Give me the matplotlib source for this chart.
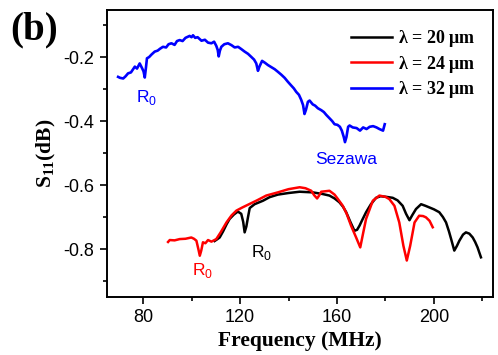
import matplotlib
matplotlib.use("Agg")
import matplotlib.pyplot as plt
from matplotlib.ticker import MultipleLocator

# ---- data ----
blue_f = [69.7, 70.5, 71.8, 72.8, 73.8, 75.0, 76.6, 77.5, 78.6, 79.6, 80.2, 80.7, 81.2, 81.6,
          82.5, 83.5, 84.8, 86.0, 87.0, 88.2, 89.5, 90.5, 91.7, 93.0, 94.0, 95.1, 96.3, 97.5,
          99.2, 100.0, 100.6, 101.5, 102.5, 104.1, 105.5, 106.8, 108.2, 109.3, 110.2, 110.8,
          111.2, 111.7, 112.3, 113.5, 115.0, 116.5, 117.8, 119.2, 120.5, 121.9, 123.3, 124.7,
          125.8, 126.7, 127.4, 128.0, 129.1, 130.3, 131.5, 133.0, 134.3, 135.6, 137.0, 138.4,
          139.7, 141.0, 142.2, 143.2, 144.3, 145.2, 146.0, 146.6, 147.2, 148.0, 148.7, 150.0,
          151.0, 152.1, 153.5, 154.6, 155.6, 157.0, 158.0, 159.0, 160.2, 161.2, 162.0, 162.8,
          163.3, 163.9, 164.6, 165.2, 166.5, 168.1, 169.5, 170.8, 172.2, 173.5, 174.9, 176.3,
          177.5, 179.0, 179.7]
blue_s = [-0.262, -0.265, -0.267, -0.260, -0.251, -0.248, -0.230, -0.236, -0.220, -0.235,
          -0.245, -0.264, -0.232, -0.204, -0.200, -0.192, -0.183, -0.180, -0.174, -0.168,
          -0.170, -0.160, -0.157, -0.162, -0.150, -0.147, -0.150, -0.140, -0.134, -0.138,
          -0.132, -0.140, -0.138, -0.149, -0.146, -0.155, -0.157, -0.152, -0.165, -0.178,
          -0.198, -0.180, -0.168, -0.160, -0.157, -0.163, -0.170, -0.168, -0.175, -0.183,
          -0.190, -0.200, -0.208, -0.220, -0.243, -0.230, -0.212, -0.218, -0.225, -0.232,
          -0.238, -0.246, -0.255, -0.265, -0.277, -0.288, -0.298, -0.309, -0.318, -0.333,
          -0.350, -0.378, -0.365, -0.340, -0.336, -0.348, -0.352, -0.360, -0.366, -0.372,
          -0.381, -0.392, -0.400, -0.410, -0.412, -0.418, -0.430, -0.450, -0.466, -0.450,
          -0.418, -0.414, -0.420, -0.422, -0.430, -0.420, -0.425, -0.418, -0.416, -0.420,
          -0.425, -0.430, -0.410]

black_f = [109.5, 110.5, 111.6, 113.0, 114.5, 115.7, 117.5, 119.1, 120.5, 121.3, 121.9, 122.6,
           123.3, 124.0, 126.0, 129.5, 132.2, 135.6, 140.0, 144.6, 150.0, 154.0, 156.9, 159.0,
           161.0, 162.5, 163.8, 165.5, 167.2, 168.3, 169.3, 170.5, 172.0, 174.0, 176.1, 178.0,
           180.3, 183.0, 185.0, 187.1, 188.5, 189.9, 191.0, 192.6, 194.7, 196.5, 198.1, 200.0,
           202.2, 203.7, 205.0, 206.2, 207.1, 208.4, 209.5, 210.5, 212.0, 213.2, 214.6, 216.0,
           217.0, 218.0, 219.4]
black_s = [-0.775, -0.770, -0.764, -0.745, -0.722, -0.706, -0.692, -0.683, -0.690, -0.715,
           -0.748, -0.730, -0.700, -0.672, -0.660, -0.649, -0.638, -0.630, -0.625, -0.621,
           -0.623, -0.628, -0.633, -0.642, -0.654, -0.668, -0.685, -0.715, -0.743, -0.740,
           -0.727, -0.708, -0.685, -0.660, -0.640, -0.635, -0.637, -0.640, -0.648, -0.665,
           -0.690, -0.710, -0.695, -0.675, -0.660, -0.665, -0.670, -0.676, -0.685, -0.700,
           -0.717, -0.745, -0.769, -0.805, -0.790, -0.774, -0.755, -0.748, -0.752, -0.764,
           -0.778, -0.795, -0.826]

red_f = [90.3, 91.0, 93.0, 95.1, 97.5, 99.9, 101.0, 102.0, 102.8, 103.4, 104.0, 104.7, 105.7,
         106.8, 108.2, 110.2, 112.0, 114.4, 116.5, 118.5, 121.0, 124.0, 127.0, 130.8, 135.6,
         140.0, 144.6, 147.0, 149.4, 150.6, 151.8, 152.7, 153.5, 156.9, 159.0, 160.5, 162.4,
         164.0, 165.8, 167.9, 169.6, 170.8, 172.0, 174.8, 177.5, 180.0, 181.6, 183.7, 185.7,
         187.4, 188.8, 190.2, 192.0, 193.9, 195.5, 196.7, 198.2, 199.5]
red_s = [-0.778, -0.772, -0.773, -0.769, -0.768, -0.764, -0.768, -0.774, -0.800, -0.821,
         -0.805, -0.779, -0.782, -0.772, -0.777, -0.769, -0.748, -0.717, -0.695, -0.680,
         -0.670, -0.659, -0.648, -0.633, -0.623, -0.613, -0.607, -0.610, -0.618, -0.632,
         -0.642, -0.632, -0.621, -0.618, -0.630, -0.645, -0.665, -0.690, -0.727, -0.764,
         -0.795, -0.750, -0.706, -0.649, -0.633, -0.637, -0.644, -0.665, -0.717, -0.790,
         -0.836, -0.790, -0.717, -0.696, -0.697, -0.701, -0.712, -0.732]

series_labels = [r'$\mathregular{\lambda}$ = 20 $\mathregular{\mu}$m',
                 r'$\mathregular{\lambda}$ = 24 $\mathregular{\mu}$m',
                 r'$\mathregular{\lambda}$ = 32 $\mathregular{\mu}$m']

xticks = [80, 120, 160, 200]
yticks = [-0.8, -0.6, -0.4, -0.2]

# ---- figure ----
fig = plt.figure(figsize=(4.98, 3.55), dpi=100)
ax = fig.add_axes([0.2143, 0.1634, 0.9906 - 0.2143, 0.9718 - 0.1634])

ax.plot(black_f, black_s, color='black', lw=1.8, label=series_labels[0])
ax.plot(red_f, red_s, color='#ff0000', lw=1.8, label=series_labels[1])
ax.plot(blue_f, blue_s, color='#0000ff', lw=1.9, label=series_labels[2])

ax.set_xlim(65, 224.5)
ax.set_ylim(-0.95, -0.053)
ax.set_xticks(xticks)
ax.set_yticks(yticks)
ax.set_xticklabels([str(v) for v in xticks])
ax.set_yticklabels(['%.1f' % v for v in yticks])
ax.xaxis.set_minor_locator(MultipleLocator(20))
ax.yaxis.set_minor_locator(MultipleLocator(0.1))

for s in ax.spines.values():
    s.set_linewidth(1.4)
ax.tick_params(which='both', direction='out', top=False, right=False, width=1.2)
ax.tick_params(which='major', length=5, labelsize=13, pad=4)
ax.tick_params(which='minor', length=3)
for lab in ax.get_xticklabels() + ax.get_yticklabels():
    lab.set_fontfamily('Liberation Sans')

serif_bold = dict(family='Liberation Serif', weight='bold')
ax.set_xlabel('Frequency (MHz)', fontsize=15.5, labelpad=3, **serif_bold)
ax.set_ylabel(r'S$_\mathregular{11}$(dB)', fontsize=15.5, labelpad=4, **serif_bold)

leg = ax.legend(loc='upper right', frameon=False, handlelength=2.3, handletextpad=0.3,
                labelspacing=0.25, borderaxespad=0.6,
                prop=dict(family='Liberation Serif', weight='bold', size=13))

sans = dict(family='Liberation Sans', fontsize=12.5)
ax.text(81.6, -0.328, r'R$_\mathregular{0}$', color='#0000ff', ha='center', va='center', **sans)
ax.text(104.6, -0.866, r'R$_\mathregular{0}$', color='#ff0000', ha='center', va='center', **sans)
ax.text(129.0, -0.812, r'R$_\mathregular{0}$', color='black', ha='center', va='center', **sans)
ax.text(163.8, -0.519, 'Sezawa', color='#0000ff', ha='center', va='center', **sans)

fig.text(34 / 498, 1 - 30 / 355, '(b)', ha='center', va='center', fontsize=28, **serif_bold)

fig.savefig('out.png', dpi=100)
